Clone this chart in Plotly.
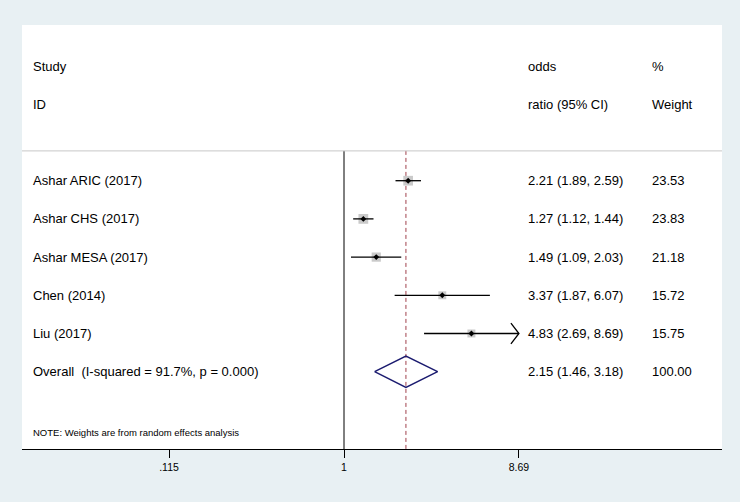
import math
import plotly.graph_objects as go

# ---- data ----
studies = ["Ashar ARIC (2017)", "Ashar CHS (2017)", "Ashar MESA (2017)", "Chen (2014)", "Liu (2017)"]
odds_ratio = [2.21, 1.27, 1.49, 3.37, 4.83]
ci_low = [1.89, 1.12, 1.09, 1.87, 2.69]
ci_high = [2.59, 1.44, 2.03, 6.07, 8.69]
weights = [23.53, 23.83, 21.18, 15.72, 15.75]

overall_label = "Overall\u00a0 (I-squared = 91.7%, p = 0.000)"
overall_or = 2.15
overall_low = 1.46
overall_high = 3.18
overall_weight = 100.00

tick_vals = [0.115, 1, 8.69]
tick_text = [".115", "1", "8.69"]
x_max_shown = 8.69  # CIs beyond this get an arrow

note_text = "NOTE: Weights are from random effects analysis"

# ---- layout constants ----
FONT = "Liberation Sans, Arial, Helvetica, sans-serif"
BG = "#e8f0f3"
X_RANGE = [-1.7286, 2.0292]          # log10
Y_TOP, Y_BOT = -3.076, 8.024         # row units (reversed axis)
LINE_TOP = 0.22
rows = list(range(1, len(studies) + 1))
overall_row = len(studies) + 1
note_row = 7.6

fig = go.Figure()

# null line at 1
fig.add_trace(go.Scatter(x=[1, 1], y=[LINE_TOP, Y_BOT], mode="lines",
                         line=dict(color="black", width=1), hoverinfo="skip"))
# overall effect dashed line
fig.add_trace(go.Scatter(x=[overall_or, overall_or], y=[LINE_TOP, Y_BOT], mode="lines",
                         line=dict(color="#a0404c", width=1, dash="4px,3px"), hoverinfo="skip"))

# gray weight squares
fig.add_trace(go.Scatter(x=odds_ratio, y=rows, mode="markers",
                         marker=dict(symbol="square", color="#b4b4b4",
                                     size=[2.0 * math.sqrt(w) for w in weights], line=dict(width=0)),
                         hoverinfo="skip"))

# CI lines
for r, lo, hi in zip(rows, ci_low, ci_high):
    fig.add_trace(go.Scatter(x=[lo, min(hi, x_max_shown)], y=[r, r], mode="lines",
                             line=dict(color="black", width=1.3), hoverinfo="skip"))
    if hi >= x_max_shown:
        back = x_max_shown * math.exp(-8 / 80.9)
        fig.add_trace(go.Scatter(x=[back, x_max_shown, back], y=[r - 0.27, r, r + 0.27],
                                 mode="lines", line=dict(color="black", width=1.3),
                                 hoverinfo="skip"))

# point estimates
fig.add_trace(go.Scatter(x=odds_ratio, y=rows, mode="markers",
                         marker=dict(symbol="diamond", color="black", size=4.5, line=dict(width=0)),
                         hoverinfo="skip"))

# overall diamond
fig.add_trace(go.Scatter(x=[overall_low, overall_or, overall_high, overall_or, overall_low],
                         y=[overall_row, overall_row - 0.41, overall_row, overall_row + 0.41, overall_row],
                         mode="lines", line=dict(color="#1c1c70", width=1.5), hoverinfo="skip"))

# ---- text columns ----
ann = []
def txt(x, y, s, size=13):
    ann.append(dict(x=x, y=y, xref="paper", yref="y", text=s, showarrow=False,
                    xanchor="left", yanchor="middle", font=dict(family=FONT, size=size, color="black")))

X_STUDY, X_OR, X_W = 0.0124, 0.72, 0.8965
txt(X_STUDY, -2, "Study")
txt(X_STUDY, -1, "ID")
txt(X_OR, -2, "odds")
txt(X_OR, -1, "ratio (95% CI)")
txt(X_W, -2, "%")
txt(X_W, -1, "Weight")
for r, s, o, lo, hi, w in zip(rows, studies, odds_ratio, ci_low, ci_high, weights):
    txt(X_STUDY, r, s)
    txt(X_OR, r, f"{o:.2f} ({lo:.2f}, {hi:.2f})")
    txt(X_W, r, f"{w:.2f}")
txt(X_STUDY, overall_row, overall_label)
txt(X_OR, overall_row, f"{overall_or:.2f} ({overall_low:.2f}, {overall_high:.2f})")
txt(X_W, overall_row, f"{overall_weight:.2f}")
txt(X_STUDY, note_row, note_text, size=9.5)

fig.update_layout(
    width=740, height=502,
    margin=dict(l=22, r=18, t=25, b=53),
    paper_bgcolor=BG, plot_bgcolor="white",
    showlegend=False,
    annotations=ann,
    shapes=[dict(type="line", xref="paper", yref="y", x0=0, x1=1, y0=LINE_TOP, y1=LINE_TOP,
                 line=dict(color="#c8c8c8", width=1))],
    xaxis=dict(type="log", range=X_RANGE, tickvals=tick_vals, ticktext=tick_text,
               showgrid=False, zeroline=False, showline=True, linecolor="black", linewidth=1,
               ticks="outside", ticklen=8, tickcolor="black", tickwidth=1,
               tickfont=dict(family=FONT, size=10.5, color="black"), fixedrange=True),
    yaxis=dict(range=[Y_BOT, Y_TOP], visible=False, showgrid=False, zeroline=False, fixedrange=True),
)

fig.write_html("out.html", config={"displayModeBar": False},
               post_script="document.body.style.margin='0';document.body.style.background='" + BG + "';")
